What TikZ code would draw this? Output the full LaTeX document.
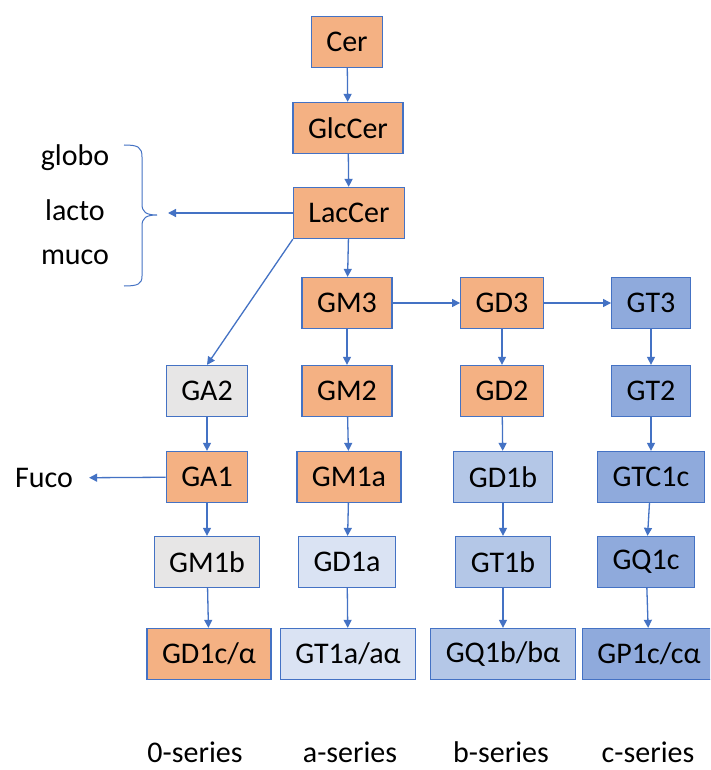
\documentclass[tikz,border=0pt]{standalone}
\usepackage{fontspec}
\setmainfont{Carlito}
\usetikzlibrary{arrows.meta}

\definecolor{edgeblue}{HTML}{4472C4}
\definecolor{boxorange}{HTML}{F4B183}
\definecolor{boxgrey}{HTML}{E7E6E6}
\definecolor{boxpale}{HTML}{DAE3F3}
\definecolor{boxmid}{HTML}{B4C7E7}
\definecolor{boxdeep}{HTML}{8FAADC}

\tikzset{
  box/.style={draw=edgeblue,line width=1.3pt,minimum height=51pt,inner xsep=15pt,inner ysep=0pt},
  orange/.style={box,fill=boxorange},
  grey/.style={box,fill=boxgrey},
  pale/.style={box,fill=boxpale},
  mid/.style={box,fill=boxmid},
  deep/.style={box,fill=boxdeep},
  series/.style={inner sep=0pt,anchor=base},
  link/.style={draw=edgeblue,line width=1.3pt,-{Triangle[width=8pt,length=8pt]}}
}

\begin{document}
\begin{tikzpicture}[x=1pt,y=-1pt,font=\fontsize{30}{36}\selectfont]

    \clip (0,0) rectangle (710,770);
    \fill[white] (0,0) rectangle (710,770);

    % main chain
    \node[orange] (cer) at (347,42) {Cer};
    \node[orange] (glccer) at (348,128) {GlcCer};
    \node[orange] (laccer) at (349,213) {LacCer};

    % series heads
    \node[orange] (gm3) at (347,303) {GM3};
    \node[orange] (gd3) at (502,303) {GD3};
    \node[deep] (gt3) at (651,303) {GT3};

    % 0-series
    \node[grey] (ga2) at (207,391) {GA2};
    \node[orange] (ga1) at (207,477) {GA1};
    \node[grey] (gm1b) at (207,562) {GM1b};
    \node[orange] (gd1c) at (209,654) {GD1c/α};

    % a-series
    \node[orange] (gm2) at (347,391) {GM2};
    \node[orange] (gm1a) at (349,477) {GM1a};
    \node[pale] (gd1a) at (347,562) {GD1a};
    \node[pale] (gt1a) at (348,654) {GT1a/aα};

    % b-series
    \node[orange] (gd2) at (502,391) {GD2};
    \node[mid] (gd1b) at (503,477) {GD1b};
    \node[mid] (gt1b) at (503,562) {GT1b};
    \node[mid] (gq1b) at (503,654) {GQ1b/bα};

    % c-series
    \node[deep] (gt2) at (651,391) {GT2};
    \node[deep] (gtc1c) at (651,477) {GTC1c};
    \node[deep] (gq1c) at (646,562) {GQ1c};
    \node[deep] (gp1c) at (649,654) {GP1c/cα};

    % side branches
    \node (globo) at (75,158) {globo};
    \node (lacto) at (75,210) {lacto};
    \node (muco) at (75,257) {muco};
    \node[inner xsep=16pt] (fuco) at (44,478) {Fuco};
    \coordinate (bracetip) at (168,213);

    % curly bracket
    \draw[edgeblue,line width=1pt]
      (124,145) .. controls (138,145) and (142,147) .. (142,157) -- (142,204)
      .. controls (142,212) and (146,215) .. (157,215)
      .. controls (146,215) and (142,218) .. (142,226) -- (142,276)
      .. controls (142,284) and (138,286) .. (124,286);

    % arrows
    \foreach \a/\b in {cer/glccer,glccer/laccer,laccer/gm3,gm3/gd3,gd3/gt3,
                       ga2/ga1,ga1/gm1b,gm1b/gd1c,gm3/gm2,gm2/gm1a,gm1a/gd1a,gd1a/gt1a,
                       gd3/gd2,gd2/gd1b,gd1b/gt1b,gt1b/gq1b,gt3/gt2,gt2/gtc1c,gtc1c/gq1c,gq1c/gp1c}
      \draw[link] (\a) -- (\b);
    \draw[link] (laccer.south west) -- (ga2.north);
    \draw[link] (laccer) -- (bracetip);
    \draw[link] (ga1) -- (fuco);

    % series names
    \node[series] (zero) at (195,762) {0-series};
    \node[series] (aser) at (350,762) {a-series};
    \node[series] (bser) at (501,762) {b-series};
    \node[series] (cser) at (648,762) {c-series};

\end{tikzpicture}
\end{document}
